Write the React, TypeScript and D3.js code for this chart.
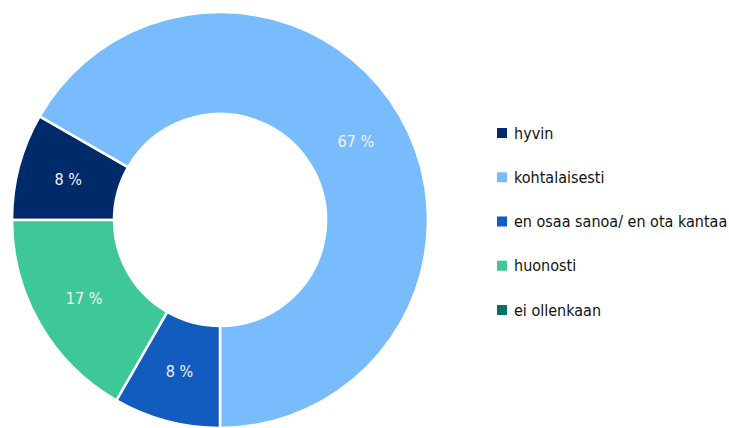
import { useRef, useEffect } from "react";
import * as d3 from "d3";

const categories = [
  "hyvin",
  "kohtalaisesti",
  "en osaa sanoa/ en ota kantaa",
  "huonosti",
  "ei ollenkaan",
];
const values = [8.3, 66.7, 8.3, 16.7, 0];
const colors = ["#002b6b", "#79bcfe", "#125bbf", "#3ec797", "#03706e"];

const FONT = "'DejaVu Sans Condensed', 'DejaVu Sans', sans-serif";

const DonutChart = () => {
  const svgRef = useRef<SVGSVGElement>(null);

  useEffect(() => {
    const svg = d3.select(svgRef.current);
    svg.selectAll("*").remove();

    const cx = 220;
    const cy = 220;
    const outer = 208;
    const inner = 106;

    const data = categories.map((c, i) => ({ name: c, value: values[i], color: colors[i] }));

    const pie = d3
      .pie<any>()
      .value((d) => d.value)
      .sort(null)
      .startAngle(-Math.PI / 2)
      .endAngle((3 * Math.PI) / 2);

    const arc = d3.arc<any>().innerRadius(inner).outerRadius(outer);

    const chart = svg.append("g").attr("transform", `translate(${cx},${cy})`);

    const arcs = pie(data).filter((d) => d.data.value > 0);

    chart
      .selectAll("path")
      .data(arcs)
      .join("path")
      .attr("d", arc)
      .attr("fill", (d) => d.data.color)
      .attr("stroke", "#fff")
      .attr("stroke-width", 2.5);

    chart
      .selectAll("text")
      .data(arcs)
      .join("text")
      .attr("transform", (d) => `translate(${arc.centroid(d)})`)
      .attr("text-anchor", "middle")
      .attr("dy", "0.35em")
      .attr("fill", "#f2f2f2")
      .style("font-family", FONT)
      .style("font-stretch", "condensed")
      .style("font-size", "16px")
      .text((d) => `${Math.round(d.data.value)} %`);

    const y = d3.scalePoint().domain(categories).range([133, 310]);

    const legend = svg
      .append("g")
      .selectAll("g")
      .data(data)
      .join("g")
      .attr("transform", (d) => `translate(497,${y(d.name)})`);

    legend
      .append("rect")
      .attr("x", 0)
      .attr("y", -5)
      .attr("width", 10)
      .attr("height", 10)
      .attr("fill", (d) => d.color);

    legend
      .append("text")
      .attr("x", 17)
      .attr("dy", "0.35em")
      .attr("fill", "#111")
      .style("font-family", FONT)
      .style("font-stretch", "condensed")
      .style("font-size", "16px")
      .text((d) => d.name);
  }, []);

  return (
    <svg
      ref={svgRef}
      width={729}
      height={428}
      style={{ position: "absolute", left: 0, top: 0, background: "#fff" }}
    ></svg>
  );
};

export default function App() {
  return <DonutChart />;
}
